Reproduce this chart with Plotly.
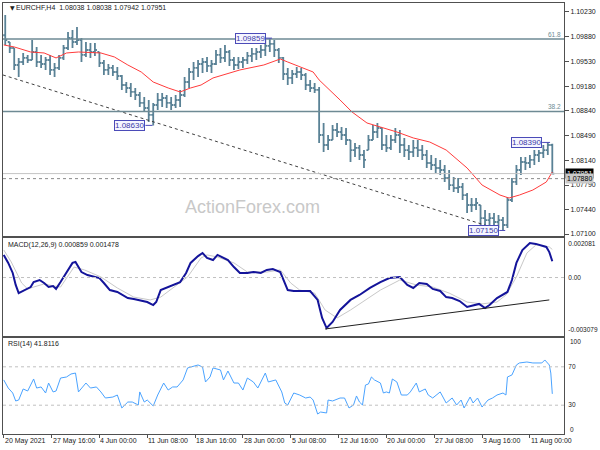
import plotly.graph_objects as go

# ---------------- data ----------------
symbol_header = "EURCHF,H4  1.08038 1.08038 1.07942 1.07951"
macd_header = "MACD(12,26,9) 0.000859 0.001478"
rsi_header = "RSI(14) 41.8116"

time_labels = ["20 May 2021", "27 May 16:00", "4 Jun 00:00", "11 Jun 08:00", "18 Jun 16:00",
               "28 Jun 00:00", "5 Jul 08:00", "12 Jul 16:00", "20 Jul 00:00", "27 Jul 08:00",
               "3 Aug 16:00", "11 Aug 00:00"]
time_label_bars = [0, 32, 64, 96, 128, 160, 192, 224, 256, 288, 320, 352]

price_ticks = [1.10230, 1.09880, 1.09530, 1.09180, 1.08840, 1.08490, 1.08140, 1.07790, 1.07440, 1.07100]

# price bars (each bar = 3 H4 bars)
bar_index = list(range(1, 368, 3))
bar_high = [1.10185, 1.09805, 1.09720, 1.09580, 1.09650, 1.09622, 1.09833, 1.09735, 1.09622, 1.09594,
            1.09622, 1.09509, 1.09622, 1.09763, 1.09946, 1.09974, 1.10016, 1.09861, 1.09805, 1.09791,
            1.09791, 1.09664, 1.09551, 1.09495, 1.09481, 1.09453, 1.09340, 1.09241, 1.09227, 1.09157,
            1.09101, 1.09030, 1.08988, 1.08946, 1.09086, 1.09086, 1.09058, 1.09030, 1.09058, 1.09129,
            1.09312, 1.09439, 1.09523, 1.09551, 1.09580, 1.09594, 1.09551, 1.09692, 1.09720, 1.09763,
            1.09692, 1.09594, 1.09594, 1.09594, 1.09664, 1.09720, 1.09720, 1.09763, 1.09833, 1.09859,
            1.09833, 1.09720, 1.09594, 1.09439, 1.09411, 1.09453, 1.09439, 1.09368, 1.09270, 1.09227,
            1.09171, 1.08664, 1.08495, 1.08636, 1.08664, 1.08607, 1.08593, 1.08424, 1.08382, 1.08354,
            1.08283, 1.08495, 1.08636, 1.08664, 1.08593, 1.08495, 1.08495, 1.08593, 1.08565, 1.08453,
            1.08354, 1.08424, 1.08424, 1.08354, 1.08283, 1.08213, 1.08171, 1.08143, 1.08072, 1.08002,
            1.07903, 1.07889, 1.07819, 1.07678, 1.07607, 1.07607, 1.07509, 1.07438, 1.07396, 1.07396,
            1.07368, 1.07340, 1.07621, 1.07889, 1.08072, 1.08185, 1.08185, 1.08213, 1.08283, 1.08283,
            1.08354, 1.08390, 1.08370]
bar_low = [1.09763, 1.09650, 1.09411, 1.09312, 1.09481, 1.09509, 1.09551, 1.09453, 1.09439, 1.09411,
           1.09340, 1.09312, 1.09411, 1.09551, 1.09692, 1.09720, 1.09763, 1.09523, 1.09594, 1.09580,
           1.09608, 1.09453, 1.09340, 1.09340, 1.09326, 1.09270, 1.09129, 1.09086, 1.09030, 1.08988,
           1.08889, 1.08819, 1.08678, 1.08630, 1.08847, 1.08889, 1.08875, 1.08847, 1.08875, 1.08889,
           1.09030, 1.09157, 1.09270, 1.09312, 1.09368, 1.09382, 1.09368, 1.09481, 1.09509, 1.09523,
           1.09467, 1.09411, 1.09425, 1.09439, 1.09495, 1.09523, 1.09551, 1.09580, 1.09608, 1.09664,
           1.09594, 1.09509, 1.09270, 1.09199, 1.09213, 1.09298, 1.09270, 1.09129, 1.09101, 1.09086,
           1.08382, 1.08255, 1.08283, 1.08424, 1.08467, 1.08424, 1.08354, 1.08114, 1.08185, 1.08143,
           1.08030, 1.08283, 1.08424, 1.08453, 1.08283, 1.08255, 1.08283, 1.08382, 1.08241, 1.08185,
           1.08143, 1.08185, 1.08185, 1.08143, 1.08030, 1.08002, 1.07959, 1.07931, 1.07833, 1.07720,
           1.07692, 1.07678, 1.07579, 1.07396, 1.07410, 1.07438, 1.07227, 1.07227, 1.07213, 1.07199,
           1.07185, 1.07150, 1.07185, 1.07551, 1.07790, 1.07931, 1.08002, 1.08030, 1.08072, 1.08114,
           1.08171, 1.08213, 1.07942]
bar_close = [1.09833, 1.09720, 1.09481, 1.09523, 1.09580, 1.09551, 1.09664, 1.09523, 1.09495, 1.09551,
             1.09411, 1.09439, 1.09580, 1.09720, 1.09861, 1.09805, 1.09833, 1.09622, 1.09692, 1.09664,
             1.09692, 1.09509, 1.09411, 1.09439, 1.09382, 1.09326, 1.09199, 1.09157, 1.09101, 1.09058,
             1.08946, 1.08875, 1.08777, 1.08917, 1.08988, 1.09016, 1.08946, 1.08917, 1.08988, 1.09058,
             1.09241, 1.09382, 1.09439, 1.09495, 1.09523, 1.09467, 1.09495, 1.09622, 1.09580, 1.09664,
             1.09551, 1.09481, 1.09523, 1.09551, 1.09608, 1.09636, 1.09664, 1.09692, 1.09749, 1.09777,
             1.09692, 1.09580, 1.09354, 1.09298, 1.09354, 1.09382, 1.09340, 1.09199, 1.09157, 1.09129,
             1.08495, 1.08354, 1.08424, 1.08565, 1.08537, 1.08495, 1.08424, 1.08283, 1.08312, 1.08213,
             1.08143, 1.08424, 1.08537, 1.08593, 1.08354, 1.08312, 1.08424, 1.08495, 1.08354, 1.08283,
             1.08255, 1.08312, 1.08283, 1.08213, 1.08100, 1.08072, 1.08030, 1.08002, 1.07889, 1.07790,
             1.07748, 1.07762, 1.07649, 1.07509, 1.07509, 1.07537, 1.07325, 1.07297, 1.07325, 1.07269,
             1.07297, 1.07227, 1.07579, 1.07833, 1.08002, 1.08114, 1.08100, 1.08143, 1.08213, 1.08241,
             1.08283, 1.08354, 1.07951]
first_open = 1.09900

# moving average (red)
ma_bars = [0, 7, 18, 27, 35, 42, 50, 65, 74, 83, 92, 100, 110, 118, 125, 132, 140, 158, 174, 185,
           190, 207, 211, 216, 225, 233, 243, 252, 263, 274, 285, 296, 310, 320, 332, 338, 345, 354,
           363, 367]
ma_values = [1.09763, 1.09735, 1.09664, 1.09650, 1.09580, 1.09650, 1.09664, 1.09650, 1.09594, 1.09481,
             1.09382, 1.09241, 1.09157, 1.09101, 1.09157, 1.09199, 1.09298, 1.09411, 1.09481, 1.09565,
             1.09523, 1.09382, 1.09270, 1.09171, 1.08988, 1.08819, 1.08664, 1.08607, 1.08537, 1.08453,
             1.08396, 1.08283, 1.08030, 1.07790, 1.07649, 1.07607, 1.07649, 1.07720, 1.07833, 1.07974]

# trend line and levels
trend_bars = [-0.5, 326]
trend_values = [1.09340, 1.07199]
fib_levels = [1.09847, 1.08826]
fib_names = ["61.8", "38.2"]
bid_price = 1.07951
ref_price = 1.07880

# swing labels: text, bar of box edge, bar of extreme, price
swing_text = ["1.08630", "1.09859", "1.08390", "1.07150"]
swing_box_bar = [94.8, 175.5, 360.2, 331.5]
swing_point_bar = [99.5, 179.5, 365.5, 335.5]
swing_price = [1.08630, 1.09859, 1.08390, 1.07150]

# MACD
macd_bars = [0, 3, 6, 8, 10, 14, 18, 20, 24, 27, 30, 33, 35, 38, 43, 46, 48, 52, 56, 60, 64, 67, 71,
             76, 80, 83, 87, 92, 96, 100, 102, 105, 110, 114, 118, 122, 125, 130, 133, 136, 140, 143,
             147, 150, 154, 158, 163, 167, 172, 176, 180, 185, 190, 194, 198, 205, 210, 213, 216, 220,
             225, 232, 238, 245, 252, 258, 265, 270, 274, 278, 283, 287, 292, 296, 300, 305, 310, 314,
             318, 322, 325, 330, 334, 337, 340, 343, 347, 352, 356, 360, 363, 365, 367]
macd_main = [0.00119, 0.00077, 0.00024, -0.00039, -0.00082, -0.00066, -0.00050, -0.00024, -0.00013,
             -0.00029, -0.00050, -0.00045, -0.00060, -0.00024, 0.00040, 0.00077, 0.00082, 0.00029,
             0.00013, 0.00003, -0.00003, -0.00029, -0.00066, -0.00076, -0.00092, -0.00108, -0.00113,
             -0.00124, -0.00129, -0.00145, -0.00129, -0.00066, -0.00050, -0.00039, -0.00024, 0.00024,
             0.00077, 0.00113, 0.00129, 0.00103, 0.00092, 0.00119, 0.00103, 0.00092, 0.00055, 0.00024,
             0.00024, 0.00029, 0.00024, 0.00040, 0.00045, 0.00029, -0.00066, -0.00071, -0.00071,
             -0.00071, -0.00118, -0.00213, -0.00266, -0.00234, -0.00171, -0.00118, -0.00092, -0.00055,
             -0.00024, -0.00003, 0.00003, -0.00039, -0.00055, -0.00029, -0.00034, -0.00060, -0.00071,
             -0.00103, -0.00108, -0.00124, -0.00155, -0.00145, -0.00139, -0.00161, -0.00145, -0.00108,
             -0.00092, -0.00076, -0.00013, 0.00077, 0.00145, 0.00182, 0.00177, 0.00166, 0.00161,
             0.00134, 0.000859]
signal_bars = [0, 5, 12, 16, 20, 27, 34, 38, 47, 54, 65, 76, 87, 98, 105, 114, 123, 132, 136, 143,
               154, 163, 176, 185, 192, 198, 208, 215, 223, 232, 242, 252, 265, 276, 287, 298, 310,
               320, 330, 336, 343, 350, 356, 365, 367]
signal_values = [0.00145, 0.00082, -0.00029, -0.00060, -0.00050, -0.00034, -0.00045, -0.00050,
                 0.00055, 0.00040, 0.00003, -0.00055, -0.00103, -0.00118, -0.00103, -0.00050, 0.00003,
                 0.00103, 0.00119, 0.00108, 0.00077, 0.00029, 0.00029, 0.00040, -0.00029, -0.00066,
                 -0.00082, -0.00171, -0.00213, -0.00171, -0.00118, -0.00066, -0.00013, -0.00039,
                 -0.00050, -0.00082, -0.00129, -0.00139, -0.00129, -0.00092, 0.00003, 0.00129,
                 0.00171, 0.00161, 0.001478]
macd_trend_bars = [215, 365]
macd_trend_values = [-0.00271, -0.00118]
macd_range = [-0.003079, 0.002081]
macd_scale_labels = ["0.002081", "0.00", "-0.003079"]
macd_scale_at = [0.001765, 0.0, -0.002763]

# RSI
rsi_bars = [0, 3, 6, 8, 10, 13, 16, 20, 22, 25, 28, 30, 33, 35, 38, 42, 45, 48, 50, 55, 58, 62, 65,
            68, 73, 76, 79, 83, 86, 90, 91, 94, 96, 100, 103, 107, 110, 113, 116, 120, 123, 126, 130,
            133, 135, 138, 140, 145, 147, 150, 154, 157, 160, 163, 167, 170, 175, 177, 182, 186, 188,
            190, 194, 198, 202, 205, 207, 210, 212, 216, 217, 220, 225, 228, 231, 234, 236, 238, 240,
            242, 244, 246, 248, 252, 254, 256, 258, 260, 263, 266, 270, 272, 276, 278, 282, 284, 287,
            292, 296, 300, 303, 306, 308, 312, 314, 317, 320, 324, 327, 330, 334, 336, 337, 340, 343,
            345, 350, 354, 357, 360, 362, 365, 366, 367]
rsi_values = [56.3, 47.9, 42.7, 34.4, 35.4, 46.9, 44.8, 57.3, 47.9, 49.0, 42.7, 53.1, 43.8, 44.8, 58.3,
              59.4, 62.5, 63.5, 43.8, 53.1, 47.9, 49.0, 43.8, 37.5, 38.5, 40.6, 27.1, 33.3, 33.3, 30.2,
              43.8, 33.3, 35.4, 29.2, 40.6, 53.1, 45.8, 49.0, 49.0, 56.3, 68.8, 69.8, 71.9, 69.8, 54.2,
              59.4, 68.8, 66.7, 56.3, 65.6, 53.1, 53.1, 45.8, 58.3, 54.2, 47.9, 63.5, 54.2, 56.3, 43.8,
              32.3, 30.2, 42.7, 40.6, 37.5, 38.5, 35.4, 20.8, 22.9, 21.9, 35.4, 34.4, 37.5, 37.5, 27.1,
              30.2, 39.6, 33.3, 30.2, 51.0, 52.1, 59.4, 56.3, 53.1, 42.7, 43.8, 42.7, 57.3, 54.2, 40.6,
              40.6, 43.8, 53.1, 43.8, 46.9, 40.6, 37.5, 43.8, 32.3, 37.5, 30.2, 35.4, 27.1, 38.5, 32.3,
              37.5, 28.1, 35.4, 37.5, 40.6, 42.7, 40.6, 59.4, 61.5, 71.9, 74.0, 75.0, 74.0, 74.0, 74.0,
              77.1, 71.9, 63.5, 41.8116]
rsi_levels = [70, 30]
rsi_mid_labels = ["70", "30"]
rsi_edge_labels = ["100", "0"]
rsi_edge_at = [96, 5]

# ---------------- figure ----------------
FONT = "Liberation Sans"
TXT = "#202020"
BAR_COL = "#5a8296"
FRAME = "#505050"
XR = [-0.5, 374.83]

bar_open = []
prev = first_open
for h, l, c in zip(bar_high, bar_low, bar_close):
    bar_open.append(min(max(prev, l), h))
    prev = c

fig = go.Figure()
fig.add_trace(go.Ohlc(x=bar_index, open=bar_open, high=bar_high, low=bar_low, close=bar_close,
                      increasing=dict(line=dict(color=BAR_COL, width=1.8)),
                      decreasing=dict(line=dict(color=BAR_COL, width=1.8)),
                      tickwidth=0.45, hoverinfo="skip", xaxis="x", yaxis="y"))
fig.add_trace(go.Scatter(x=ma_bars, y=ma_values, mode="lines", line=dict(color="#ff3b3b", width=1),
                         xaxis="x", yaxis="y", hoverinfo="skip"))
fig.add_trace(go.Scatter(x=trend_bars, y=trend_values, mode="lines",
                         line=dict(color="#404040", width=1, dash="3px,3px"),
                         xaxis="x", yaxis="y", hoverinfo="skip"))

fig.add_trace(go.Scatter(x=signal_bars, y=signal_values, mode="lines", line=dict(color="#c8c8c8", width=1),
                         xaxis="x2", yaxis="y2", hoverinfo="skip"))
fig.add_trace(go.Scatter(x=macd_bars, y=macd_main, mode="lines", line=dict(color="#14149a", width=2),
                         xaxis="x2", yaxis="y2", hoverinfo="skip"))
fig.add_trace(go.Scatter(x=macd_trend_bars, y=macd_trend_values, mode="lines",
                         line=dict(color="#202020", width=1), xaxis="x2", yaxis="y2", hoverinfo="skip"))

fig.add_trace(go.Scatter(x=rsi_bars, y=rsi_values, mode="lines", line=dict(color="#4aa3ff", width=1),
                         xaxis="x3", yaxis="y3", hoverinfo="skip"))

H = 431.0
def dom(top_px, bot_px):
    return [(434 - bot_px) / H, (434 - top_px) / H]

axis_common = dict(showgrid=False, zeroline=False, showline=True, mirror=True,
                   linecolor=FRAME, linewidth=1)
small_font = dict(family=FONT, size=6.5, color=TXT)

shapes = []
annotations = []

# fib levels
for lv, nm in zip(fib_levels, fib_names):
    shapes.append(dict(type="line", xref="x domain", yref="y", x0=0, x1=1, y0=lv, y1=lv,
                       line=dict(color="#6e8a94", width=1.5)))
    annotations.append(dict(xref="x domain", yref="y", x=1, y=lv, xanchor="right", yanchor="bottom",
                            text=nm, showarrow=False, xshift=-1, yshift=-1,
                            font=dict(family=FONT, size=6.5, color="#6e8a94")))
shapes.append(dict(type="line", xref="x domain", yref="y", x0=0, x1=1, y0=bid_price, y1=bid_price,
                   line=dict(color="#c4c4c4", width=1)))
shapes.append(dict(type="line", xref="x domain", yref="y", x0=0, x1=1, y0=ref_price, y1=ref_price,
                   line=dict(color="#8a8a8a", width=1, dash="dot")))

# swing labels
for t, bb, pb, pr in zip(swing_text, swing_box_bar, swing_point_bar, swing_price):
    annotations.append(dict(xref="x", yref="y", x=bb, y=pr, xanchor="right", yanchor="middle",
                            text=t, showarrow=False, bgcolor="#f5f5ff", bordercolor="#4b4bb8",
                            borderwidth=1, borderpad=0,
                            font=dict(family=FONT, size=8, color="#3a3aa8")))
    shapes.append(dict(type="line", xref="x", yref="y", x0=bb, x1=pb, y0=pr, y1=pr,
                       line=dict(color="#4b4bb8", width=1)))

# macd zero & rsi levels
shapes.append(dict(type="line", xref="x2 domain", yref="y2", x0=0, x1=1, y0=0, y1=0,
                   line=dict(color="#c0c0c0", width=1, dash="dot")))
for lv in rsi_levels:
    shapes.append(dict(type="line", xref="x3 domain", yref="y3", x0=0, x1=1, y0=lv, y1=lv,
                       line=dict(color="#c0c0c0", width=1, dash="dot")))

# RSI edge scale labels (as annotations beside the axis)
for t, v in zip(rsi_edge_labels, rsi_edge_at):
    annotations.append(dict(xref="x3 domain", yref="y3", x=1, y=v, xanchor="left", yanchor="middle",
                            xshift=4, text=t, showarrow=False, font=small_font))

# headers
annotations.append(dict(xref="paper", yref="paper", x=0, y=(434 - 7) / H, xanchor="left", yanchor="middle",
                        xshift=5, text="▼", showarrow=False, font=dict(family="DejaVu Sans", size=6, color=TXT)))
annotations.append(dict(xref="paper", yref="paper", x=0, y=(434 - 7) / H, xanchor="left", yanchor="middle",
                        xshift=11, text=symbol_header, showarrow=False,
                        font=dict(family=FONT, size=7, color=TXT)))
annotations.append(dict(xref="paper", yref="paper", x=0, y=(434 - 245) / H, xanchor="left", yanchor="middle",
                        xshift=3, text=macd_header, showarrow=False, font=dict(family=FONT, size=7, color=TXT)))
annotations.append(dict(xref="paper", yref="paper", x=0, y=(434 - 344) / H, xanchor="left", yanchor="middle",
                        xshift=3, text=rsi_header, showarrow=False, font=dict(family=FONT, size=7, color=TXT)))

# watermark
annotations.append(dict(xref="paper", yref="paper", x=(252 - 2) / 563, y=(434 - 207) / H,
                        text="ActionForex.com", showarrow=False,
                        font=dict(family=FONT, size=18, color="#c8c8c8")))

# price marker labels
annotations.append(dict(xref="paper", yref="y", x=1, y=bid_price, xanchor="left", yanchor="middle",
                        xshift=1, text="1.07951", showarrow=False, bgcolor="#000000", borderpad=1,
                        font=dict(family=FONT, size=7, color="#ffffff")))
annotations.append(dict(xref="paper", yref="y", x=1, y=ref_price, xanchor="left", yanchor="middle",
                        xshift=1, text="1.07880", showarrow=False, bgcolor="#c8c8c8", borderpad=1,
                        font=dict(family=FONT, size=7, color="#000000")))

# time labels
for t, b in zip(time_labels, time_label_bars):
    annotations.append(dict(xref="x3", yref="paper", x=b, y=(434 - 441) / H, xanchor="left",
                            yanchor="middle", xshift=-1, text=t, showarrow=False,
                            font=dict(family=FONT, size=7, color=TXT)))

fig.update_layout(
    width=600, height=450,
    margin=dict(l=2, r=35, t=3, b=16),
    paper_bgcolor="white", plot_bgcolor="white",
    showlegend=False,
    xaxis=dict(domain=[0, 1], range=XR, anchor="y", showticklabels=False, ticks="",
               rangeslider=dict(visible=False), **axis_common),
    yaxis=dict(domain=dom(3, 236), range=[1.07072, 1.10354], anchor="x", side="right",
               tickvals=price_ticks, ticktext=["%.5f" % v for v in price_ticks],
               ticks="outside", ticklen=4, tickcolor=FRAME,
               tickfont=dict(family=FONT, size=7, color=TXT), **axis_common),
    xaxis2=dict(domain=[0, 1], range=XR, anchor="y2", showticklabels=False, ticks="", **axis_common),
    yaxis2=dict(domain=dom(238, 336), range=macd_range, anchor="x2", side="right",
                tickvals=macd_scale_at, ticktext=macd_scale_labels, ticks="outside", ticklen=2,
                tickcolor="rgba(0,0,0,0)", tickfont=small_font, **axis_common),
    xaxis3=dict(domain=[0, 1], range=XR, anchor="y3", showticklabels=False, ticks="outside",
                tickvals=time_label_bars, ticklen=3, tickcolor=FRAME, **axis_common),
    yaxis3=dict(domain=dom(338, 434), range=[0, 100], anchor="x3", side="right",
                tickvals=rsi_levels, ticktext=rsi_mid_labels, ticks="outside", ticklen=2,
                tickcolor="rgba(0,0,0,0)", tickfont=small_font, **axis_common),
    shapes=shapes, annotations=annotations,
)

fig.write_html("out.html", config={"displayModeBar": False},
               post_script="document.body.style.margin='0px';document.body.style.padding='0px';")
